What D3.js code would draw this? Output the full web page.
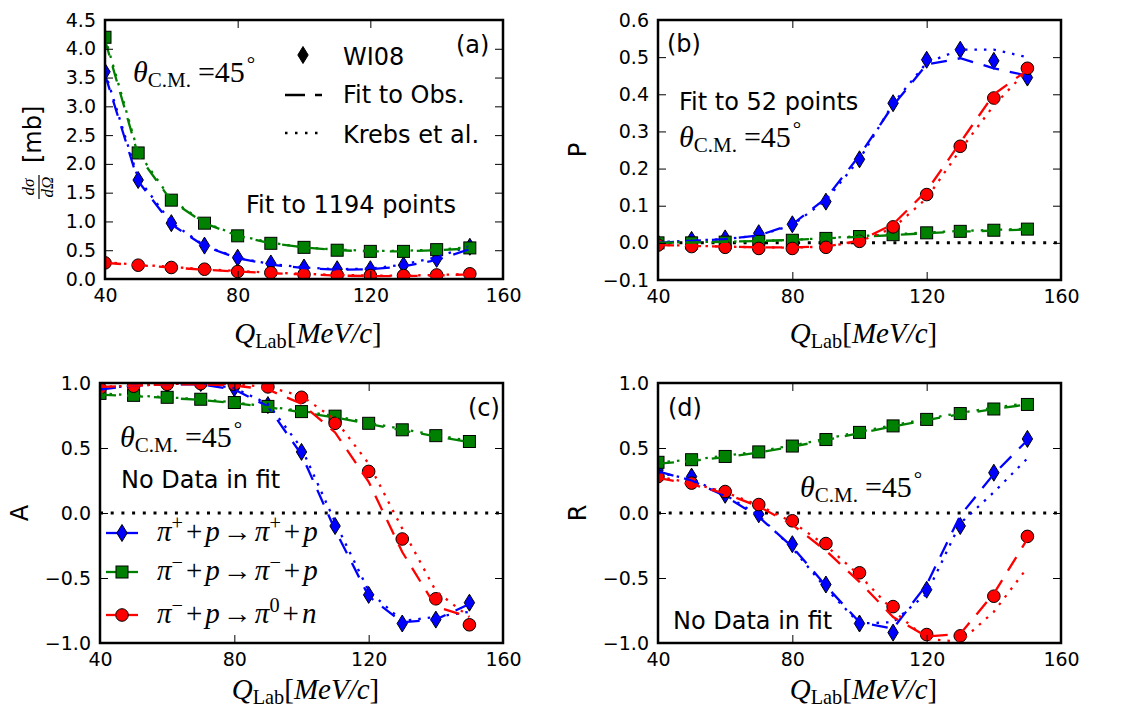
<!DOCTYPE html>
<html>
<head>
<meta charset="utf-8">
<script src="https://cdn.jsdelivr.net/npm/d3@7"></script>
<style>
  body { margin: 0; background: #fff; }
  svg { display: block; }
</style>
</head>
<body>
<div id="chart"></div>
<script>
// beam momentum, MeV/c
const qLab = [40, 50, 60, 70, 80, 90, 100, 110, 120, 130, 140, 150];
const xTicks = [40, 80, 120, 160];

// (a) dsigma/dOmega [mb]
const dsPipWI08  = [3.60, 1.72, 0.97, 0.58, 0.37, 0.27, 0.20, 0.17, 0.17, 0.24, 0.35, 0.56];
const dsPipFit   = [3.55, 1.70, 0.95, 0.57, 0.36, 0.25, 0.19, 0.16, 0.17, 0.22, 0.33, 0.52];
const dsPipKrebs = [3.60, 1.75, 0.98, 0.58, 0.37, 0.26, 0.20, 0.17, 0.18, 0.25, 0.38, 0.57];
const dsPimWI08  = [4.20, 2.19, 1.37, 0.97, 0.75, 0.62, 0.55, 0.50, 0.48, 0.48, 0.51, 0.54];
const dsPimFit   = [4.15, 2.15, 1.36, 0.97, 0.75, 0.62, 0.55, 0.50, 0.48, 0.48, 0.50, 0.53];
const dsPimKrebs = [4.20, 2.20, 1.38, 0.98, 0.76, 0.63, 0.55, 0.51, 0.49, 0.49, 0.51, 0.55];
const dsCexWI08  = [0.28, 0.24, 0.20, 0.17, 0.13, 0.11, 0.08, 0.07, 0.06, 0.06, 0.07, 0.09];
const dsCexFit   = [0.28, 0.24, 0.20, 0.16, 0.13, 0.10, 0.08, 0.06, 0.05, 0.05, 0.06, 0.08];
const dsCexKrebs = [0.29, 0.25, 0.21, 0.17, 0.14, 0.11, 0.09, 0.07, 0.06, 0.06, 0.07, 0.09];

// (b) P
const pPipWI08  = [0.000, 0.008, 0.012, 0.026, 0.050, 0.111, 0.225, 0.376, 0.493, 0.520, 0.490, 0.445];
const pPipFit   = [0.000, 0.005, 0.010, 0.020, 0.050, 0.120, 0.235, 0.370, 0.480, 0.497, 0.470, 0.450];
const pPipKrebs = [0.002, 0.006, 0.010, 0.020, 0.048, 0.115, 0.225, 0.375, 0.485, 0.520, 0.520, 0.500];
const pPimWI08  = [0.000, 0.000, 0.002, 0.004, 0.007, 0.012, 0.017, 0.022, 0.027, 0.031, 0.034, 0.037];
const pPimFit   = [0.000, 0.001, 0.003, 0.005, 0.008, 0.012, 0.016, 0.021, 0.026, 0.030, 0.033, 0.036];
const pPimKrebs = [0.001, 0.002, 0.003, 0.005, 0.008, 0.013, 0.018, 0.023, 0.028, 0.032, 0.035, 0.038];
const pCexWI08  = [-0.006, -0.010, -0.012, -0.015, -0.015, -0.012, 0.004, 0.043, 0.130, 0.260, 0.390, 0.470];
const pCexFit   = [-0.006, -0.008, -0.010, -0.012, -0.012, -0.010, 0.006, 0.050, 0.140, 0.270, 0.400, 0.465];
const pCexKrebs = [-0.005, -0.008, -0.010, -0.012, -0.013, -0.010, 0.004, 0.040, 0.120, 0.250, 0.370, 0.465];

// (c) A
const aPipWI08  = [0.95, 0.98, 0.99, 1.00, 0.96, 0.83, 0.47, -0.10, -0.63, -0.85, -0.82, -0.69];
const aPipFit   = [0.95, 0.98, 0.99, 0.99, 0.95, 0.82, 0.45, -0.13, -0.64, -0.84, -0.82, -0.70];
const aPipKrebs = [0.96, 0.98, 0.99, 1.00, 0.96, 0.84, 0.50, -0.07, -0.60, -0.83, -0.80, -0.76];
const aPimWI08  = [0.92, 0.905, 0.89, 0.875, 0.85, 0.82, 0.78, 0.745, 0.69, 0.64, 0.595, 0.55];
const aPimFit   = [0.91, 0.90, 0.885, 0.87, 0.845, 0.815, 0.775, 0.735, 0.685, 0.635, 0.59, 0.545];
const aPimKrebs = [0.92, 0.905, 0.89, 0.875, 0.85, 0.82, 0.785, 0.745, 0.695, 0.645, 0.60, 0.555];
const aCexWI08  = [0.96, 0.975, 0.99, 0.995, 0.99, 0.97, 0.89, 0.69, 0.32, -0.20, -0.66, -0.86];
const aCexFit   = [0.97, 0.98, 0.99, 0.99, 0.98, 0.95, 0.84, 0.62, 0.24, -0.30, -0.72, -0.80];
const aCexKrebs = [0.97, 0.98, 0.99, 1.00, 0.99, 0.97, 0.90, 0.72, 0.38, -0.12, -0.60, -0.80];

// (d) R
const rPipWI08  = [0.33, 0.28, 0.14, -0.01, -0.24, -0.55, -0.85, -0.92, -0.59, -0.10, 0.31, 0.57];
const rPipFit   = [0.32, 0.25, 0.13, -0.03, -0.26, -0.56, -0.84, -0.89, -0.55, -0.02, 0.30, 0.56];
const rPipKrebs = [0.31, 0.26, 0.14, -0.02, -0.27, -0.58, -0.85, -0.84, -0.62, -0.08, 0.16, 0.42];
const rPimWI08  = [0.39, 0.41, 0.435, 0.47, 0.515, 0.565, 0.62, 0.67, 0.72, 0.765, 0.80, 0.835];
const rPimFit   = [0.38, 0.40, 0.43, 0.465, 0.51, 0.56, 0.615, 0.665, 0.715, 0.76, 0.80, 0.835];
const rPimKrebs = [0.39, 0.41, 0.44, 0.475, 0.52, 0.57, 0.625, 0.675, 0.725, 0.77, 0.81, 0.845];
const rCexWI08  = [0.28, 0.23, 0.165, 0.065, -0.06, -0.235, -0.46, -0.72, -0.935, -0.945, -0.64, -0.18];
const rCexFit   = [0.27, 0.22, 0.15, 0.05, -0.09, -0.29, -0.53, -0.80, -0.95, -0.93, -0.62, -0.20];
const rCexKrebs = [0.28, 0.23, 0.16, 0.06, -0.07, -0.25, -0.48, -0.75, -0.97, -0.99, -0.76, -0.42];

const sans = 'DejaVu Sans';
const serif = 'Liberation Serif';
const colors = { pip: '#0000ff', pim: '#008000', cex: '#ff0000' };
const marks = { pip: 'diamond', pim: 'square', cex: 'circle' };
const fitDash = '16,11';
const krebsDash = '2.5,7';

const svg = d3.select('#chart').append('svg')
  .attr('width', 1123)
  .attr('height', 715);

function marker(sel, kind, color) {
  if (kind === 'diamond') {
    sel.append('path').attr('d', 'M0,-8.5L5.2,0L0,8.5L-5.2,0Z');
  } else if (kind === 'square') {
    sel.append('rect').attr('x', -6).attr('y', -6).attr('width', 12).attr('height', 12);
  } else {
    sel.append('circle').attr('r', 6.3);
  }
  sel.selectAll('*').attr('fill', color).attr('stroke', '#000').attr('stroke-width', 1);
}

// small helper for mathtext-like labels
function mathText(sel, parts, size) {
  let shift = 0;
  parts.forEach(p => {
    const target = p.sup ? -0.38 * size : p.sub ? 0.18 * size : 0;
    const t = sel.append('tspan')
      .text(p.t)
      .attr('font-style', p.it ? 'italic' : 'normal')
      .attr('font-size', (p.sup || p.sub) ? size * 0.7 : size)
      .attr('dy', target - shift);
    if (p.dx) t.attr('dx', p.dx);
    shift = target;
  });
}

function theta(g, x, y) {
  const t = g.append('text').attr('x', x).attr('y', y).attr('font-family', serif);
  mathText(t, [
    { t: 'θ', it: true },
    { t: 'C.M.', sub: true },
    { t: '=45', dx: 7 },
    { t: '°', sup: true, dx: 2 }
  ], 30);
}

function label(g, x, y, txt, size) {
  g.append('text').attr('x', x).attr('y', y)
    .attr('font-family', sans).attr('font-size', size || 24)
    .text(txt);
}

function drawPanel(p) {
  const x = d3.scaleLinear().domain([40, 160]).range([p.left, p.right]);
  const y = d3.scaleLinear().domain(p.yDomain).range([p.bottom, p.top]);
  const g = svg.append('g');

  svg.append('clipPath').attr('id', 'clip-' + p.name)
    .append('rect')
    .attr('x', p.left).attr('y', p.top)
    .attr('width', p.right - p.left).attr('height', p.bottom - p.top);

  const plot = g.append('g').attr('clip-path', `url(#clip-${p.name})`);

  if (p.zero) {
    plot.append('line')
      .attr('x1', x(40)).attr('x2', x(160))
      .attr('y1', y(0)).attr('y2', y(0))
      .attr('stroke', '#000').attr('stroke-width', 3)
      .attr('stroke-dasharray', '3,7.7');
  }

  const line = d3.line().x((d, i) => x(qLab[i])).y(d => y(d));

  p.series.forEach(s => {
    plot.selectAll(null)
      .data(s.wi08)
      .enter()
      .append('g')
      .attr('transform', (d, i) => `translate(${x(qLab[i])},${y(d)})`)
      .each(function () { marker(d3.select(this), marks[s.key], colors[s.key]); });
  });

  p.series.forEach(s => {
    plot.append('path').attr('d', line(s.fit))
      .attr('fill', 'none').attr('stroke', colors[s.key]).attr('stroke-width', 2.3)
      .attr('stroke-dasharray', fitDash);
    plot.append('path').attr('d', line(s.krebs))
      .attr('fill', 'none').attr('stroke', colors[s.key]).attr('stroke-width', 2.3)
      .attr('stroke-dasharray', krebsDash);
  });

  // axes, ticks pointing inward on all four sides
  const styleAxis = a => {
    a.select('.domain').remove();
    a.selectAll('.tick line').attr('stroke', '#000').attr('stroke-width', 1);
    a.selectAll('.tick text').attr('fill', '#000');
    a.attr('font-family', sans).attr('font-size', 19);
  };
  g.append('g').attr('transform', `translate(0,${p.bottom})`)
    .call(d3.axisBottom(x).tickValues(xTicks).tickSize(-8).tickPadding(10).tickFormat(d3.format('d')))
    .call(styleAxis);
  g.append('g').attr('transform', `translate(0,${p.top})`)
    .call(d3.axisTop(x).tickValues(xTicks).tickSize(-8).tickFormat(''))
    .call(styleAxis);
  g.append('g').attr('transform', `translate(${p.left},0)`)
    .call(d3.axisLeft(y).tickValues(p.yTicks).tickSize(-8).tickPadding(9).tickFormat(d3.format('.1f')))
    .call(styleAxis);
  g.append('g').attr('transform', `translate(${p.right},0)`)
    .call(d3.axisRight(y).tickValues(p.yTicks).tickSize(-8).tickFormat(''))
    .call(styleAxis);

  g.append('rect')
    .attr('x', p.left).attr('y', p.top)
    .attr('width', p.right - p.left).attr('height', p.bottom - p.top)
    .attr('fill', 'none').attr('stroke', '#000').attr('stroke-width', 2.5);

  // x label
  const xl = g.append('text')
    .attr('x', (p.left + p.right) / 2 + 4).attr('y', p.bottom + p.xlabGap)
    .attr('text-anchor', 'middle').attr('font-family', serif);
  mathText(xl, [
    { t: 'Q', it: true },
    { t: 'Lab', sub: true },
    { t: '[' },
    { t: 'MeV/c', it: true },
    { t: ']' }
  ], 29);

  return g;
}

const gA = drawPanel({
  name: 'a', left: 105, right: 503, top: 20, bottom: 279, xlabGap: 64,
  yDomain: [0, 4.5], yTicks: d3.range(0, 4.51, 0.5), zero: false,
  series: [
    { key: 'pip', wi08: dsPipWI08, fit: dsPipFit, krebs: dsPipKrebs },
    { key: 'pim', wi08: dsPimWI08, fit: dsPimFit, krebs: dsPimKrebs },
    { key: 'cex', wi08: dsCexWI08, fit: dsCexFit, krebs: dsCexKrebs }
  ]
});
const gB = drawPanel({
  name: 'b', left: 658, right: 1061, top: 20, bottom: 280, xlabGap: 63,
  yDomain: [-0.1, 0.6], yTicks: d3.range(-0.1, 0.61, 0.1), zero: true,
  series: [
    { key: 'pip', wi08: pPipWI08, fit: pPipFit, krebs: pPipKrebs },
    { key: 'pim', wi08: pPimWI08, fit: pPimFit, krebs: pPimKrebs },
    { key: 'cex', wi08: pCexWI08, fit: pCexFit, krebs: pCexKrebs }
  ]
});
const gC = drawPanel({
  name: 'c', left: 100, right: 503, top: 383, bottom: 643, xlabGap: 56,
  yDomain: [-1, 1], yTicks: [-1, -0.5, 0, 0.5, 1], zero: true,
  series: [
    { key: 'pip', wi08: aPipWI08, fit: aPipFit, krebs: aPipKrebs },
    { key: 'pim', wi08: aPimWI08, fit: aPimFit, krebs: aPimKrebs },
    { key: 'cex', wi08: aCexWI08, fit: aCexFit, krebs: aCexKrebs }
  ]
});
const gD = drawPanel({
  name: 'd', left: 658, right: 1061, top: 383, bottom: 643, xlabGap: 56,
  yDomain: [-1, 1], yTicks: [-1, -0.5, 0, 0.5, 1], zero: true,
  series: [
    { key: 'pip', wi08: rPipWI08, fit: rPipFit, krebs: rPipKrebs },
    { key: 'pim', wi08: rPimWI08, fit: rPimFit, krebs: rPimKrebs },
    { key: 'cex', wi08: rCexWI08, fit: rCexFit, krebs: rCexKrebs }
  ]
});

// ----- panel (a) annotations
label(gA, 456, 53, '(a)');
theta(gA, 133, 82);
label(gA, 246, 213, 'Fit to 1194 points');
const legA = gA.append('g');
legA.append('g').attr('transform', 'translate(303,55)')
  .call(s => marker(s, 'diamond', '#000'));
legA.append('line').attr('x1', 285).attr('x2', 322).attr('y1', 95).attr('y2', 95)
  .attr('stroke', '#000').attr('stroke-width', 2.3).attr('stroke-dasharray', '20,10');
legA.append('line').attr('x1', 285).attr('x2', 322).attr('y1', 133).attr('y2', 133)
  .attr('stroke', '#000').attr('stroke-width', 2.3).attr('stroke-dasharray', '2.5,7.5');
label(legA, 343, 65, 'WI08');
label(legA, 343, 103, 'Fit to Obs.');
label(legA, 343, 143, 'Krebs et al.');

// y label (a): dsigma/dOmega [mb]
const yla = gA.append('g').attr('transform', 'translate(39,200) rotate(-90)');
yla.append('line').attr('x1', 1).attr('x2', 25).attr('y1', 0).attr('y2', 0)
  .attr('stroke', '#000').attr('stroke-width', 1.2);
yla.append('text').attr('x', 13).attr('y', -5).attr('text-anchor', 'middle')
  .attr('font-family', serif).attr('font-style', 'italic').attr('font-size', 17).text('dσ');
yla.append('text').attr('x', 13).attr('y', 14).attr('text-anchor', 'middle')
  .attr('font-family', serif).attr('font-style', 'italic').attr('font-size', 17).text('dΩ');
yla.append('text').attr('x', 37).attr('y', 2)
  .attr('font-family', sans).attr('font-size', 24).text('[mb]');

// ----- panel (b)
label(gB, 667, 52, '(b)');
label(gB, 679, 110, 'Fit to 52 points');
theta(gB, 679, 147);
gB.append('text').attr('transform', 'translate(586,150) rotate(-90)')
  .attr('text-anchor', 'middle').attr('font-family', sans).attr('font-size', 24).text('P');

// ----- panel (c)
label(gC, 468, 416, '(c)');
theta(gC, 120, 447);
label(gC, 121, 488, 'No Data in fit');
gC.append('text').attr('transform', 'translate(28,513) rotate(-90)')
  .attr('text-anchor', 'middle').attr('font-family', sans).attr('font-size', 24).text('A');

const legendRows = [
  { key: 'pip', y: 533, parts: [
    { t: 'π', it: true }, { t: '+', sup: true }, { t: '+', dx: 3 }, { t: 'p', it: true, dx: 3 },
    { t: '→', dx: 3 }, { t: 'π', it: true, dx: 3 }, { t: '+', sup: true }, { t: '+', dx: 3 }, { t: 'p', it: true, dx: 3 }] },
  { key: 'pim', y: 572, parts: [
    { t: 'π', it: true }, { t: '−', sup: true }, { t: '+', dx: 3 }, { t: 'p', it: true, dx: 3 },
    { t: '→', dx: 3 }, { t: 'π', it: true, dx: 3 }, { t: '−', sup: true }, { t: '+', dx: 3 }, { t: 'p', it: true, dx: 3 }] },
  { key: 'cex', y: 615, parts: [
    { t: 'π', it: true }, { t: '−', sup: true }, { t: '+', dx: 3 }, { t: 'p', it: true, dx: 3 },
    { t: '→', dx: 3 }, { t: 'π', it: true, dx: 3 }, { t: '0', sup: true }, { t: '+', dx: 3 }, { t: 'n', it: true, dx: 3 }] }
];
legendRows.forEach(r => {
  gC.append('line').attr('x1', 106).attr('x2', 138).attr('y1', r.y).attr('y2', r.y)
    .attr('stroke', colors[r.key]).attr('stroke-width', 2.3);
  gC.append('g').attr('transform', `translate(122,${r.y})`)
    .call(s => marker(s, marks[r.key], colors[r.key]));
  const t = gC.append('text').attr('x', 157).attr('y', r.y + 8).attr('font-family', serif);
  mathText(t, r.parts, 29);
});

// ----- panel (d)
label(gD, 668, 416, '(d)');
theta(gD, 800, 497);
label(gD, 673, 629, 'No Data in fit');
gD.append('text').attr('transform', 'translate(586,513) rotate(-90)')
  .attr('text-anchor', 'middle').attr('font-family', sans).attr('font-size', 24).text('R');
</script>
</body>
</html>
